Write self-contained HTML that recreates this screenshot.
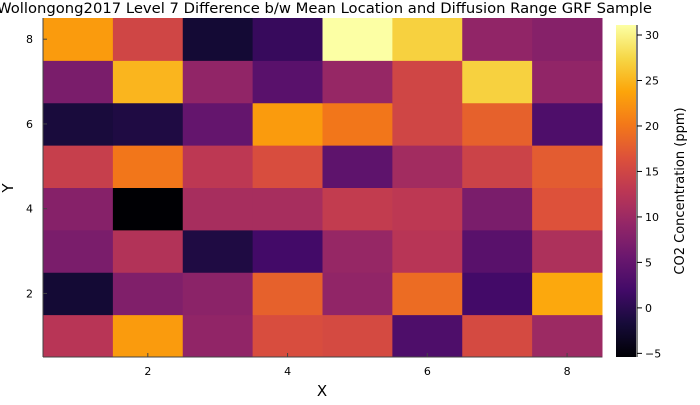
<!DOCTYPE html>
<html><head><meta charset="utf-8"><style>
body{margin:0;background:#fff;}
svg text{font-family:"DejaVu Sans","Liberation Sans",sans-serif;}
</style></head><body>
<svg id="chart" width="700" height="400" xmlns="http://www.w3.org/2000/svg">
<defs><linearGradient id="cg" x1="0" y1="1" x2="0" y2="0"></linearGradient></defs>
<text x="-3" y="13" font-size="14.5" textLength="655" lengthAdjust="spacingAndGlyphs" fill="#000">Wollongong2017 Level 7 Difference b/w Mean Location and Diffusion Range GRF Sample</text>
<g id="cells"></g>
<g id="axes"></g>
<text x="322" y="396" font-size="15" text-anchor="middle">X</text>
<text transform="translate(13,188) rotate(-90)" font-size="15" text-anchor="middle">Y</text>
<rect x="616" y="25" width="20" height="332" fill="url(#cg)"/>
<g id="cbaxis"></g>
<text transform="translate(684,191) rotate(-90)" font-size="13" text-anchor="middle">CO2 Concentration (ppm)</text>
</svg>
<script>
const xCategories=[1,2,3,4,5,6,7,8];
const yCategories=[1,2,3,4,5,6,7,8];
// rows from y=1 (bottom) to y=8 (top)
const row1=[12.5,23,9,16,15.5,3,15.5,10];
const row2=[-2,7.5,8.5,18,9,19,2,24];
const row3=[7,12,-1,2,9.5,12.5,4,11.5];
const row4=[8,-5.4,11,11,13.5,13,7,16.5];
const row5=[14,20,13,16,4.5,10.5,14.5,17.5];
const row6=[-1.5,-1,5,23,20,15,18,3];
const row7=[7,25,9,4,9.5,15,27,9];
const row8=[23,15,-2,1,31.1,27,9,8];
const rows=[row1,row2,row3,row4,row5,row6,row7,row8];
const xTicks=[2,4,6,8];
const yTicks=[2,4,6,8];
const cbTicks=[-5,0,5,10,15,20,25,30];
const cMin=-5.4,cMax=31.1;
const ns="http://www.w3.org/2000/svg";
const L=43,R=602,T=18,B=357,CT=25,CB=357;
const xs=v=>L+(v-0.5)/8*(R-L);
const ys=v=>B-(v-0.5)/8*(B-T);
const cs=v=>CB-(v-cMin)/(cMax-cMin)*(CB-CT);
const stops=["#000004","#160b39","#420a68","#6a176e","#932667","#bc3754","#dd513a","#f37819","#fca50a","#f6d746","#fcffa4"];
function hx(h){return [1,3,5].map(i=>parseInt(h.substr(i,2),16));}
function inferno(v){let t=Math.max(0,Math.min(1,(v-cMin)/(cMax-cMin)))*10;let i=Math.min(9,Math.floor(t));let f=t-i;let a=hx(stops[i]),b=hx(stops[i+1]);return "rgb("+a.map((c,k)=>Math.round(c+(b[k]-c)*f)).join(",")+")";}
function mk(tag,at,parent){const e=document.createElementNS(ns,tag);for(const k in at)e.setAttribute(k,at[k]);parent.appendChild(e);return e;}
const g=document.getElementById('cells');
rows.forEach((r,j)=>r.forEach((v,i)=>{
 const x=xCategories[i],y=yCategories[j];
 const e=mk('rect',{x:xs(x-0.5),y:ys(y+0.5),width:xs(x+0.5)-xs(x-0.5)+0.5,height:ys(y-0.5)-ys(y+0.5)+0.5,fill:inferno(v)},g);
 
 
}));
const ax=document.getElementById('axes');
mk('line',{x1:L,y1:B,x2:R,y2:B,stroke:'#444','stroke-width':1},ax);
mk('line',{x1:L,y1:T,x2:L,y2:B,stroke:'#444','stroke-width':1},ax);
xTicks.forEach(t=>{mk('line',{x1:xs(t),y1:B,x2:xs(t),y2:B-4,stroke:'#444'},ax);const e=mk('text',{x:xs(t),y:B+18,'font-size':11,'text-anchor':'middle'},ax);e.textContent=t;});
yTicks.forEach(t=>{mk('line',{x1:L,y1:ys(t),x2:L+4,y2:ys(t),stroke:'#444'},ax);const e=mk('text',{x:L-10,y:ys(t)+4,'font-size':11,'text-anchor':'end'},ax);e.textContent=t;});
const gr=document.getElementById('cg');
for(let k=0;k<=20;k++){const v=cMin+(cMax-cMin)*k/20;mk('stop',{offset:(k/20*100)+'%','stop-color':inferno(v)},gr);}
const cb=document.getElementById('cbaxis');
mk('line',{x1:637,y1:CT,x2:637,y2:CB,stroke:'#000'},cb);
cbTicks.forEach(t=>{mk('line',{x1:637,y1:cs(t),x2:642,y2:cs(t),stroke:'#000'},cb);const e=mk('text',{x:645,y:cs(t)+4,'font-size':11},cb);e.textContent=t<0?'\u2212'+(-t):t;});
</script>
</body></html>
